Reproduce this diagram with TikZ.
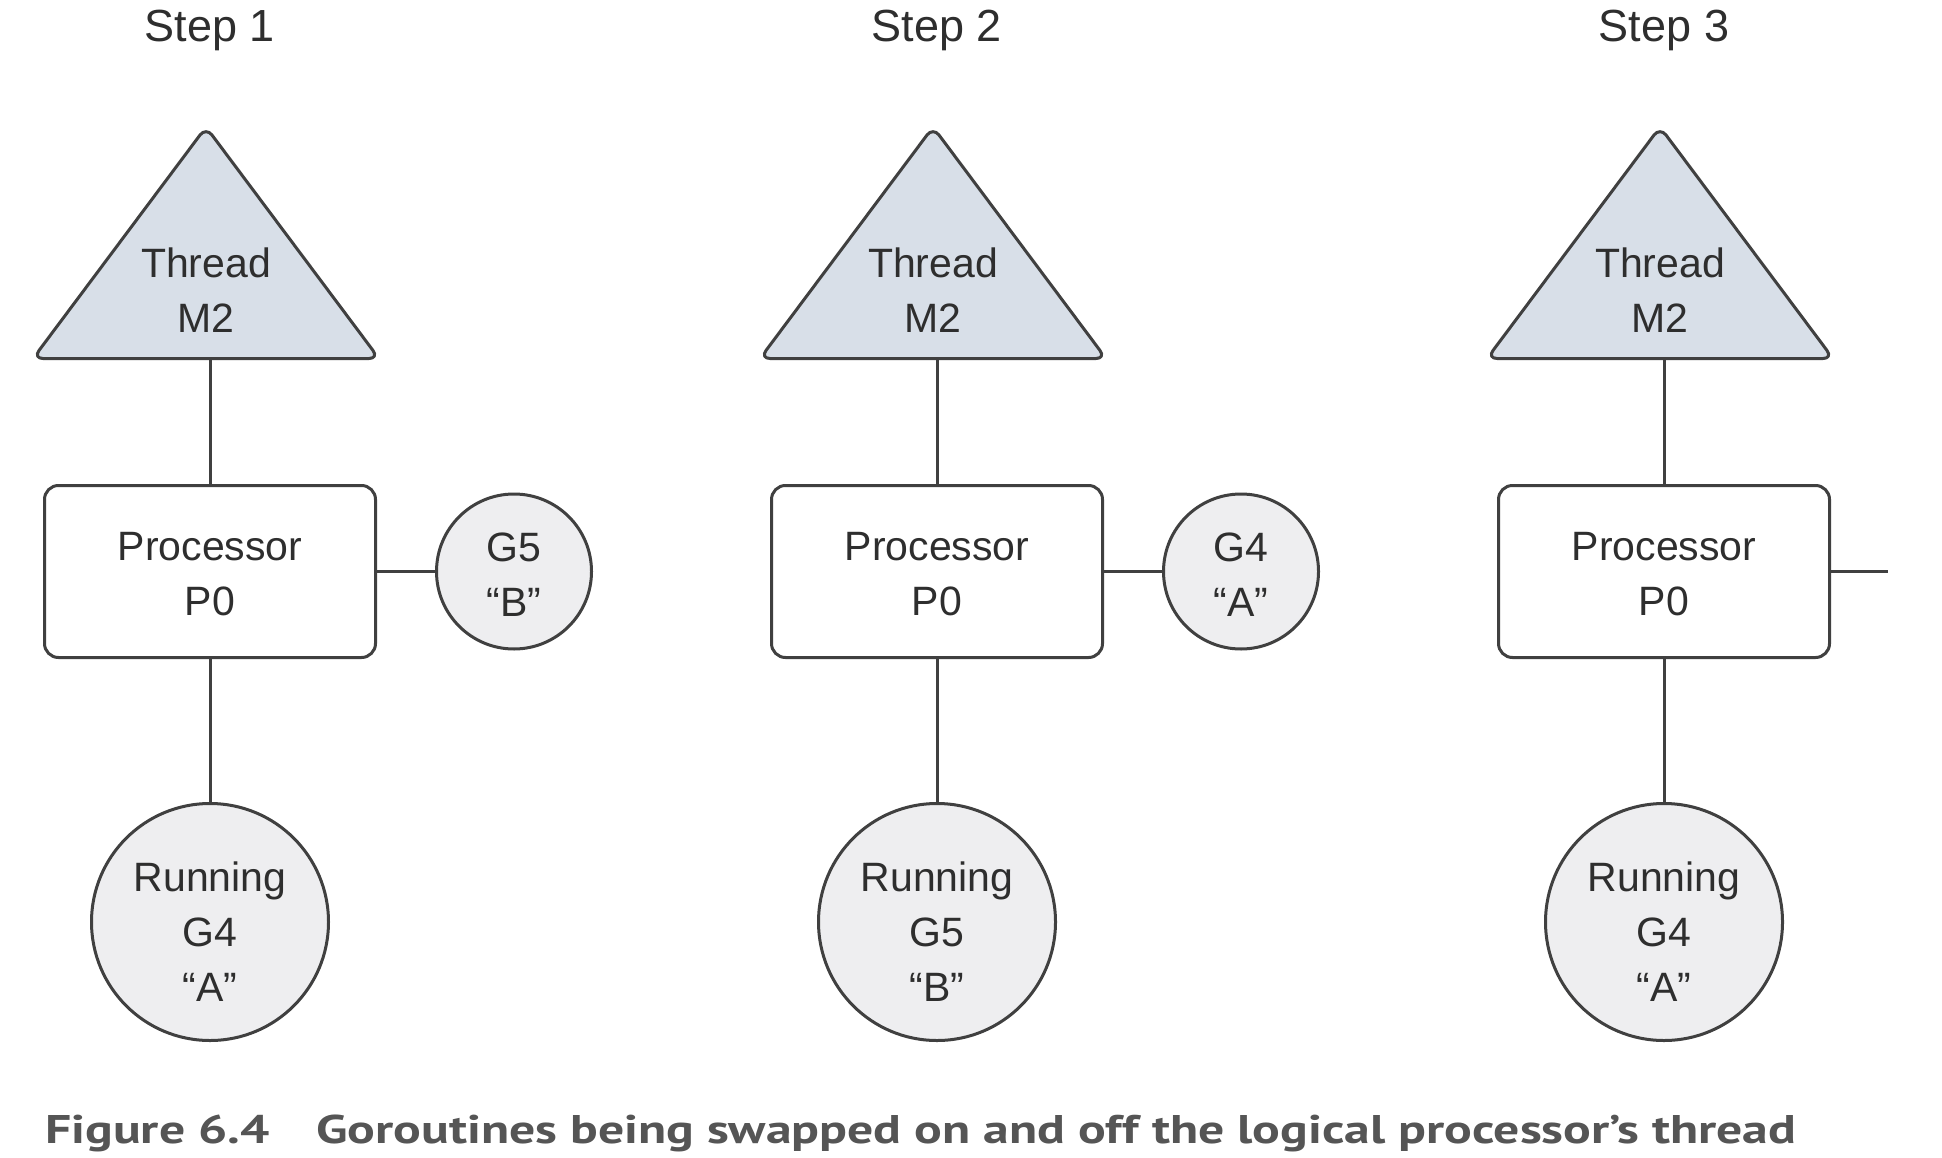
\documentclass[tikz,border=0pt]{standalone}
\usepackage{fontspec}
\setmainfont{Liberation Sans}
\newfontfamily\capfont{PT Sans}
\usepackage{graphicx}
\definecolor{linec}{HTML}{404040}
\definecolor{trifill}{HTML}{D8DFE8}
\definecolor{gfill}{HTML}{EEEEF0}
\definecolor{txtc}{HTML}{2E2E2E}
\definecolor{capc}{HTML}{555555}
\begin{document}
\begin{tikzpicture}[x=1pt,y=-1pt,
  conn/.style={draw=linec, line width=3pt},
  tri/.style={draw=linec, fill=trifill, line width=3pt, rounded corners=10pt, line join=round},
  procbox/.style={draw=linec, line width=3pt, rounded corners=14pt, minimum width=331pt, minimum height=172pt, inner sep=0pt},
  gor/.style={circle, draw=linec, fill=gfill, line width=3pt, minimum size=155pt, inner sep=0pt},
  runc/.style={gor, minimum size=237pt},
  lbl/.style={text=txtc, font=\fontsize{41}{55}\selectfont, align=center, inner sep=0pt},
  steplbl/.style={text=txtc, font=\fontsize{45}{54}\selectfont, anchor=base, inner sep=0pt}]
\useasboundingbox (0,0) rectangle (1942,1158);
\fill[white] (0,0) rectangle (1942,1158);

\foreach \i/\dx/\r/\rl in {1/0/G4/A, 2/727/G5/B, 3/1454/G4/A}{
  \node[steplbl] (step\i) at (210+\dx,42) {Step \i};
  \draw[tri] (206+\dx,127) -- (379+\dx,358.5) -- (33+\dx,358.5) -- cycle;
  \coordinate (trib\i) at (206+\dx,358.5);
  \node[lbl] (thl\i) at (206+\dx,290) {Thread\\M2};
  \node[procbox] (box\i) at (210+\dx,571.5) {};
  \node[lbl] (pl\i) at (210+\dx,574) {Processor\\P0};
  \node[runc] (run\i) at (210+\dx,922) {};
  \node[lbl] (rl\i) at (210+\dx,932) {Running\\\r\\“\rl”};
  \draw[conn] (box\i.north) -- (box\i.north |- trib\i);
  \draw[conn] (box\i.south) -- (run\i.north);
}
\foreach \i/\dx/\q/\ql in {1/0/G5/B, 2/727/G4/A}{
  \node[gor] (q\i) at (514+\dx,571.5) {};
  \node[lbl] (ql\i) at (514+\dx,574.5) {\q\\“\ql”};
  \draw[conn] (box\i.east) -- (q\i.west);
}
\coordinate (qend3) at (1888,571.5);
\draw[conn] (box3.east) -- (qend3);

\node[anchor=base west, inner sep=0pt, text=capc] (cap) at (45,1143)
  {\resizebox{1751pt}{\height}{\capfont\bfseries\fontsize{40}{44}\selectfont Figure 6.4\hspace{0.9em}Goroutines being swapped on and off the logical processor’s thread}};
\end{tikzpicture}
\end{document}
